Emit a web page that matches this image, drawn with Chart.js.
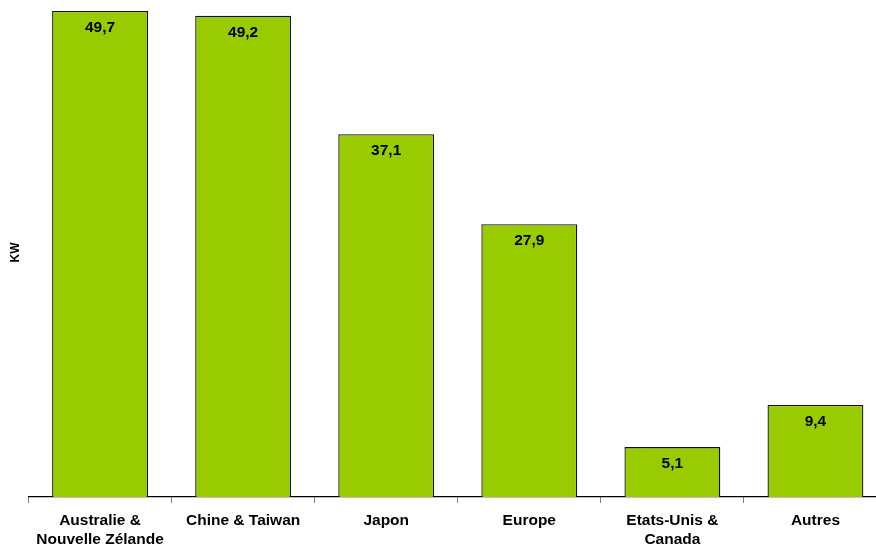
<!DOCTYPE html>
<html>
<head>
<meta charset="utf-8">
<script src="https://cdn.jsdelivr.net/npm/chart.js@4"></script>
<style>
html,body{margin:0;padding:0;overflow:hidden;background:#fff;width:876px;height:546px;}
canvas{display:block;}
</style>
</head>
<body>
<canvas id="c" width="890" height="546" style="width:890px;height:546px"></canvas>
<script>
const categories = [["Australie &","Nouvelle Zélande"],"Chine & Taiwan","Japon","Europe",["Etats-Unis &","Canada"],"Autres"];
const values = [49.7, 49.2, 37.1, 27.9, 5.1, 9.4];
const valueLabels = ["49,7","49,2","37,1","27,9","5,1","9,4"];
const axisTitle = "KW";

const FONT = "'Liberation Sans', Arial, sans-serif";

const barLabels = {
  id: 'barLabels',
  afterDatasetsDraw(chart) {
    const ctx = chart.ctx;
    const meta = chart.getDatasetMeta(0);
    ctx.save();
    ctx.font = "bold 15.5px " + FONT;
    ctx.fillStyle = "#000";
    ctx.textAlign = "center";
    ctx.textBaseline = "middle";
    meta.data.forEach((bar, i) => {
      ctx.fillText(valueLabels[i], bar.x, bar.y + 16.5);
    });
    ctx.restore();
  }
};

new Chart(document.getElementById('c'), {
  type: 'bar',
  data: {
    labels: categories,
    datasets: [{
      data: values,
      backgroundColor: '#99CC00',
      borderColor: '#111',
      borderWidth: 1.3,
      borderSkipped: 'bottom',
      barPercentage: 0.67,
      categoryPercentage: 1.0
    }]
  },
  options: {
    responsive: false,
    devicePixelRatio: 1,
    animation: false,
    layout: { padding: { top: 8, right: 3, left: 0, bottom: 0 } },
    plugins: { legend: { display: false }, tooltip: { enabled: false } },
    scales: {
      x: {
        offset: true,
        grid: { display: true, drawOnChartArea: false, drawTicks: true, tickLength: 6, color: '#808080', offset: true },
        border: { display: true, color: '#000', width: 1.3 },
        ticks: { color: '#000', font: { family: FONT, size: 15.5, weight: 'bold', lineHeight: 1.22 }, padding: 8, maxRotation: 0, autoSkip: false },
        afterFit(scale) { scale.height = 49; }
      },
      y: {
        min: 0, max: 50,
        grid: { display: false },
        border: { display: false },
        ticks: { display: false },
        title: { display: true, text: axisTitle, color: '#000', font: { family: FONT, size: 12, weight: 'bold' }, padding: { top: 8, bottom: 0 } },
        afterFit(scale) { scale.width = 28.5; }
      }
    }
  },
  plugins: [barLabels]
});
</script>
</body>
</html>
